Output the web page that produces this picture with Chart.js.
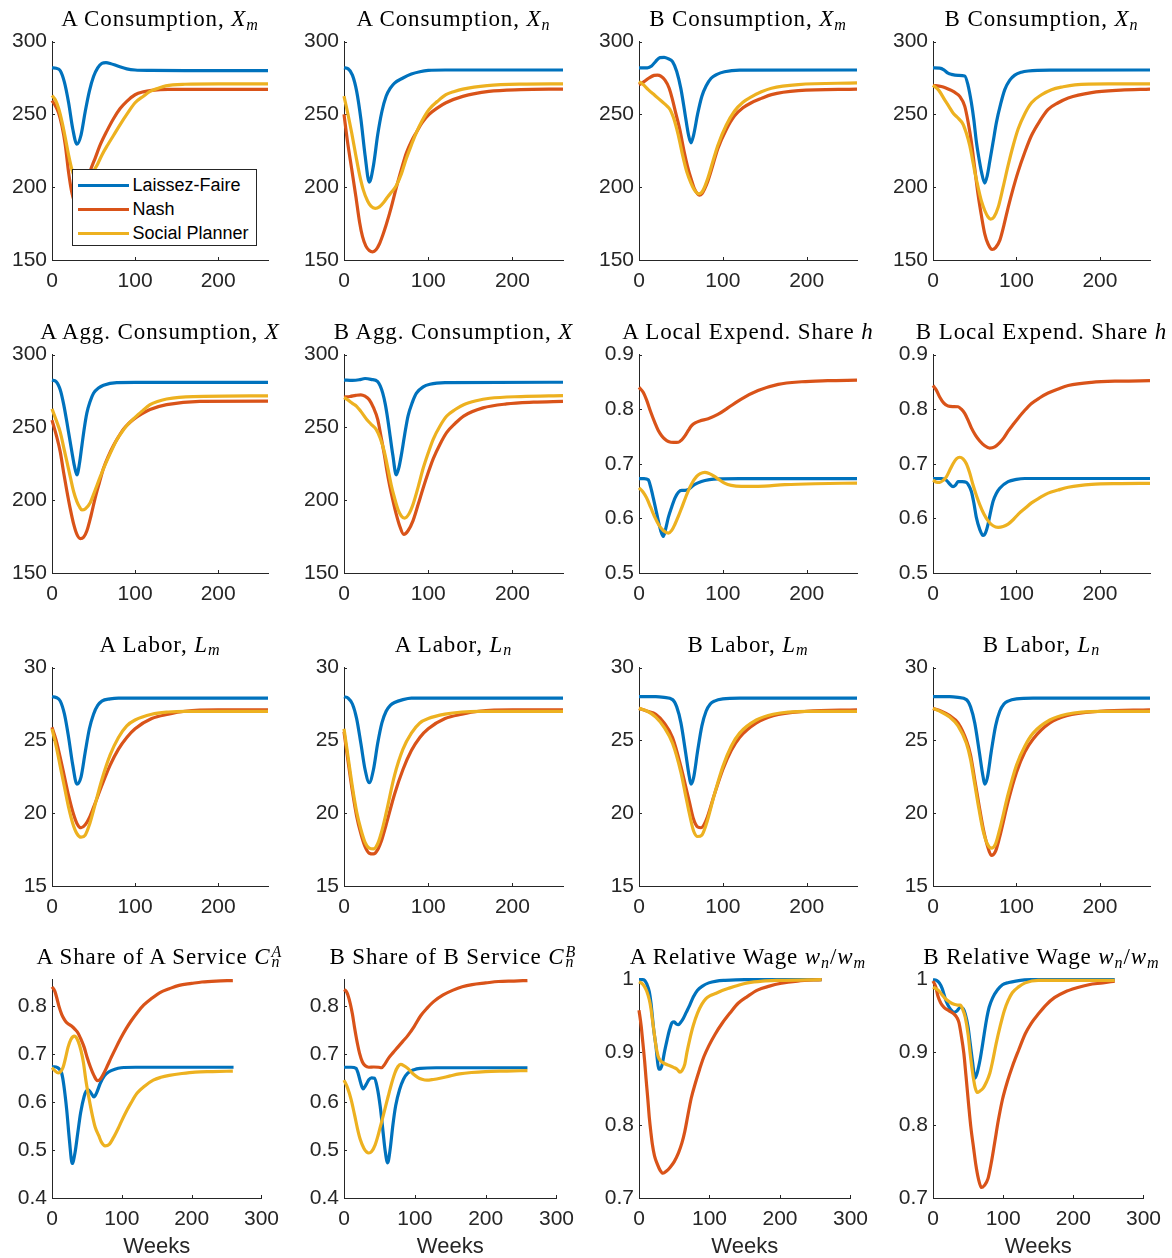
<!DOCTYPE html>
<html><head><meta charset="utf-8">
<script src="https://cdn.jsdelivr.net/npm/chart.js@4.4.1/dist/chart.umd.min.js"></script>
<style>
html,body{margin:0;padding:0;background:#fff;}
body{width:1172px;height:1258px;position:relative;overflow:hidden;}
canvas{position:absolute;}
.ttl{position:absolute;text-align:center;font-family:"Liberation Serif","Times New Roman",serif;font-size:23px;line-height:23px;letter-spacing:0.9px;color:#000;white-space:nowrap;}
.ttl i{font-style:italic;}
.sb{font-size:70%;position:relative;top:3.5px;font-style:italic;}
.ss{display:inline-block;position:relative;width:13px;height:1px;}
.ss .a,.ss .b{position:absolute;left:1px;font-size:16px;line-height:16px;font-style:italic;}
.ss .a{bottom:4px;}
.ss .b{bottom:-6px;}
#lg{position:absolute;left:71.5px;top:169px;width:185px;height:77px;border:1px solid #262626;background:#fff;box-sizing:border-box;}
#lg .ln{position:absolute;left:5px;width:51px;height:3px;}
#lg .tx{position:absolute;left:60px;font-family:"Liberation Sans",Arial,sans-serif;font-size:18px;line-height:18px;color:#000;white-space:nowrap;}
</style></head><body>
<script>
// ---------------- data (weeks, value) ----------------
const seriesNames = ['Laissez-Faire','Nash','Social Planner'];

const xTicksShort = [0,100,200];
const xTicksLong = [0,100,200,300];
const yTicksCons = [150,200,250,300];
const yTicksShare = [0.5,0.6,0.7,0.8,0.9];
const yTicksLabor = [15,20,25,30];
const yTicksServ = [0.4,0.5,0.6,0.7,0.8];
const yTicksWage = [0.7,0.8,0.9,1];

// A Consumption, X_m
const AXm_LF = [[0,282],[5,281.7],[10,280],[15,272],[20,258],[25,240],[30,229.5],[35,236],[40,252],[45,266],[50,276],[55,282],[60,285],[65,285.5],[70,285],[80,283],[90,281.3],[100,280.5],[120,280.2],[160,280],[260,280]];
const AXm_N = [[0,259.5],[4,256],[8,251],[12,242],[16,229],[20,210],[24,196],[28,189],[32,188],[36,191],[40,198],[46,211],[52,220],[58,229],[66,238.5],[74,247],[82,254],[90,259],[100,263.5],[110,265.5],[120,266.5],[140,267.2],[260,267.2]];
const AXm_SP = [[0,263],[4,260],[8,254],[12,245],[16,234],[20,222],[24,212],[28,206],[32,202],[36,201],[40,202.5],[45,206],[50,211],[55,216],[60,222],[67,229],[74,235.5],[82,243],[90,250],[100,258],[110,262.5],[118,265.8],[128,268],[137,269.6],[160,270.7],[200,271],[260,271]];
// A Consumption, X_n
const AXn_LF = [[0,282],[5,281.3],[10,277],[15,266],[20,247],[25,222],[30,203.5],[35,215],[40,236],[45,252],[50,262.5],[55,268],[60,271.5],[70,275],[80,277.7],[90,279.3],[100,280.2],[120,280.5],[260,280.5]];
const AXn_N = [[0,250],[4,232],[9,213],[14,194],[18.5,176],[22,166],[26,159.5],[30,156.5],[34,155.6],[38,157],[42,161],[46,167],[50,174],[56,186],[62,199.5],[68,212],[74,223.5],[80,231.5],[86,237.7],[93,244.5],[101,250],[111,254.5],[121,258],[141,262.4],[172,265.8],[210,267],[260,267.4]];
const AXn_SP = [[0,262.5],[4,252],[9,237.7],[14,222],[18.5,208.5],[23,198],[28,190.5],[32,187],[37,185.5],[42,186.5],[47,189.5],[52,193.5],[57,197],[62,201],[68,209],[74,219.7],[80,229],[86,237.7],[93,246],[101,253.4],[111,259],[121,263.6],[131,265.8],[141,267.4],[170,269.8],[210,270.8],[260,271]];
// B Consumption, X_m
const BXm_LF = [[0,282],[10,282],[15,283.2],[20,286.5],[25,289],[30,289.2],[35,288.2],[40,286.3],[45,279.5],[50,267.5],[55,250],[59,236],[62,230.5],[65,235.5],[70,250.5],[75,262.5],[80,269.5],[86,274.8],[93,277.5],[102,279.3],[120,280.4],[260,280.5]];
const BXm_N = [[0,270.3],[6,272.5],[12,275],[18,276.8],[22,277],[26,276.3],[31,273.5],[36,268],[40,260],[44,250.5],[48.5,240],[54,224],[58,214],[62,206],[66,199],[70,195.3],[72,194.5],[75,195.5],[82,204],[88,215],[94,226.5],[104,239.5],[114,249],[124,254.5],[134,258],[146,261],[158,263.6],[190,266.3],[260,267.4]];
const BXm_SP = [[0,272.6],[5,270.5],[11,267],[19,263],[27,259],[32,256.5],[37,253.4],[41,248],[45,240],[48.5,231.5],[52,222],[57,210.5],[62,202.8],[66,198.2],[71.5,195.4],[76,197.5],[82,206],[88,217.5],[94,228.7],[104,242.5],[114,252.3],[124,258.3],[134,262],[146,265.5],[158,268],[190,270.5],[260,271.6]];
// B Consumption, X_n
const BXn_LF = [[0,282],[8,281.8],[13,280.6],[18,278.3],[22,277.5],[30,276.8],[38,276.4],[42,270],[46,258],[49,246],[52,231],[55,220],[58,210.7],[62,202.8],[65,208],[68,217.6],[72,231],[76,244.5],[81,257],[86,267],[92,273.5],[98,277],[106,279],[114,279.8],[140,280.4],[260,280.5]];
const BXn_N = [[0,270],[10,269.2],[16,268],[22,266.5],[28,264.4],[32,262.4],[38,255.7],[42,245],[46,231],[50,213],[54,195],[58,180.5],[62,168],[66,161],[71,157.2],[75,158.5],[80,163.5],[85,174],[90,186],[96,199],[102,210.7],[110,224],[118,235.5],[128,245.5],[138,253.4],[150,258],[162,261.3],[190,265],[225,266.7],[260,267.4]];
const BXn_SP = [[0,270],[7,266.5],[14,260],[19,255.5],[24,251],[30,247.5],[36,243.3],[40,237],[44,228.7],[47,220],[50,210.7],[54,200],[58,190.5],[62,184],[66,179.5],[69,178.1],[73,179.5],[78,186],[84,200],[90,215],[96,228.5],[102,240],[110,250.5],[118,258],[130,263.5],[142,267],[156,269],[170,270.3],[210,271],[260,271]];
// A Agg. Consumption, X
const AX_LF = [[0,282.5],[5,281.5],[10,275.7],[14,266],[18,253.3],[21,243],[24,233],[27,223.5],[30,217.4],[33,225],[36,237.6],[39,250],[42,260],[46,268],[50,273.5],[56,277],[62,279],[78,280.8],[100,280.9],[260,280.9]];
const AX_N = [[0,255],[5,245],[10,233],[14,219],[18,206],[22,194],[26,183.7],[30,176.5],[34,173.6],[38,174.5],[42,179],[47,189.5],[52,201.6],[57,212],[62,221.9],[68,230.5],[74,237.6],[80,243.5],[86,248.8],[92,252.5],[98,255.5],[108,259.3],[118,262.3],[138,265.6],[178,267.9],[260,268]];
const AX_SP = [[0,262.7],[5,255],[10,246.6],[14,236.5],[18,226.3],[22,216],[26,206],[30,199],[33,195.5],[36,193.3],[40,194],[46,198.3],[52,207],[58,216],[64,224.5],[70,232],[78,241.5],[86,248.3],[92,252.5],[98,255.8],[108,261],[118,265.6],[128,268],[138,269.5],[170,271.2],[260,271.7]];
// B Agg. Consumption, X
const BX_LF = [[0,282.5],[10,282.3],[18,282.7],[25,283.6],[32,283],[40,281.4],[43,278.5],[46,273.5],[49,266],[52,255.5],[55,243],[58,230.8],[62,217.4],[65,222],[68,230.8],[72,245],[76,257.8],[81,267],[86,273.5],[94,277.8],[102,279.6],[120,280.7],[260,281]];
const BX_N = [[0,270.8],[7,271.2],[14,272],[20,272.4],[25,271.4],[30,269],[35,263.5],[40,255.5],[44,243.5],[48,230.8],[51,220],[54,210.6],[58,200],[62,190.4],[66,182.5],[71,176.5],[76,179],[82,186],[88,197],[94,208.4],[100,219],[106,228.6],[114,238.5],[122,246.6],[132,252.8],[142,257.8],[165,263.4],[193,266.1],[225,267.3],[260,267.9]];
const BX_SP = [[0,270.5],[5,268.7],[10,266.5],[15,264.5],[20,261],[27,255.5],[32,252.3],[38,248.8],[43,242.5],[48,233],[52,222],[56,210.6],[60,201.5],[64,193.8],[68,189.2],[72,187.7],[77,190.5],[82,197.2],[88,209],[94,221.9],[100,232.5],[106,242],[114,251],[122,257.8],[132,262.3],[142,265.6],[157,268.3],[173,270],[210,271.2],[260,271.8]];
// A Local Expend. Share h
const Ah_LF = [[0,0.673],[6,0.673],[11,0.6707],[14,0.657],[17,0.6377],[20,0.617],[23,0.5958],[26,0.577],[29,0.567],[32,0.582],[35,0.6018],[39,0.621],[43,0.6377],[47,0.648],[51,0.6515],[55,0.6515],[59,0.653],[66,0.662],[74.5,0.6677],[84,0.671],[94,0.6725],[120,0.673],[260,0.673]];
const Ah_N = [[0,0.840],[5,0.831],[9,0.817],[14,0.795],[19,0.775],[23,0.761],[27,0.7515],[31,0.745],[35,0.741],[41,0.7392],[47,0.7395],[51,0.744],[55,0.7515],[59,0.7615],[62.5,0.7695],[67,0.775],[72.5,0.7784],[82.5,0.7826],[94,0.7904],[106,0.8024],[122,0.8186],[142,0.8341],[166,0.8455],[194,0.8503],[225,0.8522],[260,0.8533]];
const Ah_SP = [[0,0.656],[5,0.648],[9,0.6377],[14,0.62],[19,0.6018],[24,0.587],[29,0.5778],[35,0.573],[39,0.578],[43,0.5898],[47,0.604],[51,0.6198],[55,0.636],[58.5,0.6497],[63,0.664],[68.5,0.6766],[73,0.682],[78.5,0.6844],[84,0.682],[90.5,0.6766],[96,0.6705],[102,0.6647],[110,0.6605],[122,0.6587],[142,0.6587],[174,0.6617],[210,0.6635],[260,0.6647]];
// B Local Expend. Share h
const Bh_LF = [[0,0.6731],[10,0.6731],[16,0.670],[20,0.663],[24,0.6582],[27,0.661],[30,0.6672],[35,0.6675],[40,0.666],[43,0.66],[46,0.6493],[49,0.628],[52,0.6015],[56,0.58],[60,0.5687],[63,0.574],[66,0.5896],[69,0.612],[72,0.6313],[76,0.646],[80,0.6552],[90,0.6672],[100,0.6715],[110,0.6731],[260,0.6731]];
const Bh_N = [[0,0.8433],[4,0.835],[8,0.8224],[13,0.811],[18,0.8057],[24,0.8048],[30,0.8045],[34,0.8],[38,0.7925],[42,0.78],[46,0.7657],[51,0.752],[56,0.7418],[62,0.733],[68,0.7287],[74,0.731],[80,0.7388],[85,0.748],[90,0.7597],[96,0.772],[102,0.7836],[110,0.798],[118,0.8104],[128,0.821],[138,0.8296],[150,0.837],[162,0.8433],[190,0.8493],[225,0.8515],[260,0.8522]];
const Bh_SP = [[0,0.670],[4,0.6665],[8,0.666],[12,0.6695],[16,0.6761],[20,0.688],[24,0.700],[28,0.709],[32,0.712],[36,0.709],[40,0.700],[44,0.683],[48,0.6612],[52,0.642],[56,0.6254],[61,0.608],[66,0.5955],[72,0.5865],[78,0.5836],[84,0.585],[90,0.5896],[96,0.5975],[102,0.6075],[110,0.618],[118,0.6284],[128,0.638],[138,0.6463],[150,0.652],[162,0.657],[190,0.6624],[225,0.6637],[260,0.6642]];
// A Labor, L_m
const ALm_LF = [[0,28],[5,27.95],[10,27.7],[15,26.8],[20,25.2],[25,23.3],[30,22.0],[35,22.5],[40,24.2],[45,25.8],[50,26.8],[55,27.4],[60,27.7],[70,27.85],[80,27.9],[260,27.9]];
const ALm_N = [[0,25.9],[5,25.0],[10,23.8],[15,22.5],[20,21.2],[25,20.1],[30,19.3],[35,19.0],[40,19.2],[45,19.7],[50,20.4],[60,21.9],[70,23.3],[80,24.4],[90,25.2],[100,25.8],[120,26.5],[140,26.8],[160,27.0],[200,27.1],[260,27.1]];
const ALm_SP = [[0,25.8],[5,24.6],[10,23.2],[15,21.8],[20,20.4],[25,19.3],[30,18.6],[35,18.35],[40,18.5],[45,19.2],[50,20.2],[60,22.3],[70,24.0],[80,25.2],[90,26.0],[100,26.4],[120,26.8],[140,26.95],[160,27.0],[260,27.0]];
// A Labor, L_n
const ALn_LF = [[0,28],[5,27.9],[10,27.5],[15,26.5],[20,24.8],[25,23.0],[30,22.1],[35,23.0],[40,24.8],[45,26.2],[50,27.0],[55,27.4],[60,27.6],[70,27.8],[80,27.9],[260,27.9]];
const ALn_N = [[0,25.6],[5,23.5],[10,21.5],[15,19.8],[20,18.6],[25,17.7],[30,17.25],[35,17.2],[40,17.5],[45,18.2],[50,19.2],[60,21.3],[70,23.0],[80,24.3],[90,25.2],[100,25.8],[120,26.5],[140,26.8],[160,27.0],[200,27.1],[260,27.1]];
const ALn_SP = [[0,25.8],[5,23.8],[10,21.8],[15,20.1],[20,18.9],[25,18.0],[30,17.6],[35,17.55],[40,17.9],[45,18.8],[50,20.0],[60,22.6],[70,24.4],[80,25.5],[90,26.2],[100,26.5],[120,26.8],[140,26.95],[160,27.0],[260,27.0]];
// B Labor, L_m
const BLm_LF = [[0,28],[20,28],[30,27.95],[40,27.8],[45,27.3],[50,26.2],[55,24.4],[60,22.5],[62,22.0],[65,22.4],[70,24.3],[75,26.0],[80,27.0],[85,27.5],[90,27.7],[100,27.85],[120,27.9],[260,27.9]];
const BLm_N = [[0,27.2],[10,27.0],[20,26.8],[30,26.2],[40,25.2],[50,23.2],[55,22.0],[60,20.8],[65,19.6],[70,19.05],[74,19.0],[80,19.5],[90,21.3],[100,23.0],[110,24.3],[120,25.2],[140,26.2],[160,26.7],[200,27.0],[260,27.1]];
const BLm_SP = [[0,27.2],[10,27.0],[20,26.6],[30,25.9],[40,24.8],[50,22.8],[55,21.4],[60,20.0],[65,18.8],[70,18.4],[75,18.5],[80,19.2],[90,21.3],[100,23.2],[110,24.6],[120,25.5],[140,26.4],[160,26.8],[200,27.0],[260,27.0]];
// B Labor, L_n
const BLn_LF = [[0,28],[20,28],[30,27.95],[40,27.8],[45,27.3],[50,26.2],[55,24.4],[60,22.5],[62,22.0],[65,22.4],[70,24.3],[75,26.0],[80,27.0],[85,27.5],[90,27.7],[100,27.85],[120,27.9],[260,27.9]];
const BLn_N = [[0,27.2],[10,27.0],[20,26.7],[30,26.2],[40,25.0],[45,24.0],[50,22.3],[55,20.6],[60,19.0],[65,17.8],[70,17.1],[75,17.4],[80,18.4],[90,20.8],[100,22.8],[110,24.2],[120,25.1],[140,26.2],[160,26.7],[200,27.0],[260,27.1]];
const BLn_SP = [[0,27.2],[10,26.95],[20,26.6],[30,26.0],[40,24.8],[45,23.7],[50,22.0],[55,20.3],[60,18.8],[65,17.9],[70,17.6],[75,17.9],[80,18.9],[90,21.3],[100,23.3],[110,24.6],[120,25.5],[140,26.4],[160,26.8],[200,27.0],[260,27.0]];
// A Share of A Service C_n^A
const ACn_LF = [[0,0.6735],[4,0.674],[8,0.672],[11,0.668],[14,0.66],[17,0.635],[21,0.585],[25,0.52],[29,0.472],[33,0.495],[37,0.537],[41,0.578],[46,0.612],[49,0.623],[52,0.626],[56,0.619],[60,0.611],[64,0.62],[69,0.639],[75,0.655],[81,0.663],[90,0.669],[99,0.672],[120,0.673],[260,0.673]];
const ACn_N = [[0,0.841],[4,0.832],[7,0.817],[10,0.8],[14,0.783],[18,0.772],[21,0.766],[25,0.762],[28,0.759],[33,0.752],[37,0.745],[41,0.733],[46,0.715],[50,0.695],[55,0.6735],[60,0.656],[65,0.645],[69,0.648],[74,0.66],[79,0.675],[85,0.694],[92,0.715],[99,0.735],[106,0.753],[113,0.769],[122,0.787],[131.5,0.803],[143,0.817],[154.6,0.829],[168,0.837],[182,0.844],[200,0.848],[214.6,0.851],[235,0.853],[259,0.854]];
const ACn_SP = [[0,0.672],[4,0.666],[9,0.661],[13,0.665],[16,0.6735],[19,0.69],[23,0.715],[27,0.731],[32,0.738],[36,0.732],[41.5,0.708],[45,0.683],[48.5,0.646],[53,0.608],[58,0.571],[62,0.547],[67,0.53],[71,0.516],[76,0.509],[82,0.512],[88,0.526],[96,0.549],[104,0.574],[113,0.598],[122,0.619],[133,0.634],[145,0.646],[156,0.652],[168,0.656],[186,0.66],[205,0.663],[230,0.664],[259,0.665]];
// B Share of B Service C_n^B
const BCn_LF = [[0,0.673],[10,0.673],[17,0.6707],[20,0.66],[24,0.638],[27,0.628],[31,0.636],[35,0.647],[39,0.651],[43,0.650],[47,0.63],[51,0.5925],[55,0.54],[58,0.5],[61.6,0.4735],[65,0.5],[69,0.552],[73,0.593],[78.5,0.6265],[84,0.648],[90,0.6605],[99,0.668],[108,0.6707],[130,0.672],[259,0.672]];
const BCn_N = [[0,0.835],[3,0.832],[5.5,0.824],[9,0.805],[12,0.783],[15,0.755],[19,0.722],[22,0.702],[26,0.684],[30,0.676],[35,0.673],[42,0.6735],[49,0.673],[53,0.672],[57,0.678],[62.5,0.691],[69,0.703],[76,0.715],[83,0.727],[90,0.739],[99,0.758],[108,0.78],[117,0.796],[126.5,0.81],[140,0.824],[154,0.834],[167,0.841],[181,0.8456],[200,0.849],[218,0.852],[240,0.853],[259,0.854]];
const BCn_SP = [[0,0.646],[5,0.63],[10,0.606],[15,0.573],[19,0.545],[23,0.522],[28,0.504],[32,0.496],[35,0.494],[39,0.497],[44,0.511],[48,0.53],[53,0.5585],[58,0.587],[62.5,0.613],[67,0.638],[71.7,0.6605],[76,0.674],[80,0.679],[85,0.676],[90,0.6707],[97,0.66],[104,0.652],[110,0.648],[117,0.646],[126,0.6475],[135.6,0.650],[150,0.655],[163,0.659],[180,0.662],[199.5,0.664],[230,0.665],[259,0.666]];
// A Relative Wage w_n/w_m
const Aw_LF = [[0,1.0],[5,1.0],[8,0.999],[11,0.994],[14.7,0.983],[17,0.968],[19,0.949],[21,0.93],[24,0.909],[26,0.89],[28,0.877],[30,0.877],[33,0.884],[36,0.9],[40,0.918],[43,0.93],[47,0.941],[50,0.942],[53,0.939],[56,0.938],[59,0.941],[63,0.947],[67,0.955],[72,0.965],[77,0.976],[83,0.9855],[90,0.991],[99,0.9955],[110,0.998],[122,0.999],[150,1.0],[259,1.0]];
const Aw_N = [[0,0.958],[3,0.937],[5.5,0.913],[8,0.888],[10,0.864],[12.5,0.836],[14.7,0.8096],[17,0.789],[19,0.7735],[22,0.758],[26,0.7465],[30,0.738],[34,0.734],[39,0.737],[44,0.742],[50,0.75],[56,0.762],[61,0.776],[65,0.7916],[69,0.812],[74,0.8367],[80,0.858],[86,0.877],[92,0.894],[99,0.909],[108,0.925],[118,0.94],[129,0.954],[140.6,0.9675],[154,0.977],[168,0.9856],[185,0.991],[200,0.9946],[225,0.998],[259,1.0]];
const Aw_SP = [[0,0.997],[4,0.995],[8,0.99],[11,0.984],[14.7,0.972],[17,0.96],[19,0.945],[21.5,0.927],[24,0.909],[27,0.895],[30,0.889],[34,0.886],[37.5,0.884],[43,0.882],[49,0.8795],[54,0.877],[58,0.873],[61,0.875],[65,0.884],[68,0.9],[72,0.918],[77,0.937],[83,0.954],[89,0.966],[95,0.974],[101,0.978],[108.6,0.981],[118,0.985],[127,0.988],[140,0.992],[154,0.9955],[175,0.998],[200,0.999],[259,1.0]];
// B Relative Wage w_n/w_m
const Bw_LF = [[0,1.0],[5,0.999],[9,0.9955],[13,0.988],[18.5,0.971],[23,0.962],[27,0.957],[30,0.955],[34,0.957],[39,0.962],[43,0.96],[46,0.953],[50,0.935],[53,0.9125],[56,0.89],[60,0.8647],[63,0.872],[67,0.8895],[71,0.913],[76,0.9436],[80,0.962],[85,0.975],[92,0.986],[99,0.993],[108,0.996],[118,0.998],[140,1.0],[259,1.0]];
const Bw_N = [[0,0.998],[4,0.99],[7,0.9774],[11,0.968],[16,0.9616],[23,0.957],[30,0.9526],[34,0.948],[37,0.941],[40,0.925],[44,0.8985],[47,0.868],[51,0.826],[54,0.797],[58,0.7677],[61,0.746],[64.6,0.727],[69,0.7144],[73,0.717],[78.5,0.727],[83,0.748],[88,0.7767],[93,0.806],[99,0.8353],[106,0.86],[113,0.8804],[122,0.903],[131.5,0.9256],[140,0.94],[150,0.9526],[161,0.965],[173,0.9752],[188,0.983],[205,0.9887],[222,0.993],[242,0.9955],[259,0.998]];
const Bw_SP = [[0,0.9896],[5,0.987],[9,0.984],[13,0.979],[18.5,0.973],[24,0.969],[30,0.966],[35,0.965],[39,0.965],[42,0.96],[46,0.948],[50,0.925],[53,0.8985],[56,0.875],[58,0.862],[60,0.852],[63,0.845],[67,0.847],[71.5,0.851],[76,0.859],[81,0.8714],[85,0.888],[90,0.912],[96,0.937],[101.5,0.957],[107,0.971],[113,0.982],[122,0.99],[131.5,0.9955],[150,0.999],[200,0.999],[259,0.999]];

// ---------------- panel table ----------------
const sub = s => '<span class="sb">' + s + '</span>';
const supsub = (a, b) => '<span class="ss"><span class="a">' + a + '</span><span class="b">' + b + '</span></span>';
const panels = [
  {t:'A Consumption, <i>X</i>' + sub('m'), d:[AXm_LF,AXm_N,AXm_SP], y:[150,300], yt:yTicksCons},
  {t:'A Consumption, <i>X</i>' + sub('n'), d:[AXn_LF,AXn_N,AXn_SP], y:[150,300], yt:yTicksCons},
  {t:'B Consumption, <i>X</i>' + sub('m'), d:[BXm_LF,BXm_N,BXm_SP], y:[150,300], yt:yTicksCons},
  {t:'B Consumption, <i>X</i>' + sub('n'), d:[BXn_LF,BXn_N,BXn_SP], y:[150,300], yt:yTicksCons},
  {t:'A Agg. Consumption, <i>X</i>', d:[AX_LF,AX_N,AX_SP], y:[150,300], yt:yTicksCons},
  {t:'B Agg. Consumption, <i>X</i>', d:[BX_LF,BX_N,BX_SP], y:[150,300], yt:yTicksCons},
  {t:'A Local Expend. Share <i>h</i>', d:[Ah_LF,Ah_N,Ah_SP], y:[0.5,0.9], yt:yTicksShare},
  {t:'B Local Expend. Share <i>h</i>', d:[Bh_LF,Bh_N,Bh_SP], y:[0.5,0.9], yt:yTicksShare},
  {t:'A Labor, <i>L</i>' + sub('m'), d:[ALm_LF,ALm_N,ALm_SP], y:[15,30], yt:yTicksLabor},
  {t:'A Labor, <i>L</i>' + sub('n'), d:[ALn_LF,ALn_N,ALn_SP], y:[15,30], yt:yTicksLabor},
  {t:'B Labor, <i>L</i>' + sub('m'), d:[BLm_LF,BLm_N,BLm_SP], y:[15,30], yt:yTicksLabor},
  {t:'B Labor, <i>L</i>' + sub('n'), d:[BLn_LF,BLn_N,BLn_SP], y:[15,30], yt:yTicksLabor},
  {t:'A Share of A Service <i>C</i>' + supsub('A','n'), d:[ACn_LF,ACn_N,ACn_SP], y:[0.4,0.856], yt:yTicksServ},
  {t:'B Share of B Service <i>C</i>' + supsub('B','n'), d:[BCn_LF,BCn_N,BCn_SP], y:[0.4,0.856], yt:yTicksServ},
  {t:'A Relative Wage <i>w</i>' + sub('n') + '/<i>w</i>' + sub('m'), d:[Aw_LF,Aw_N,Aw_SP], y:[0.7,1], yt:yTicksWage},
  {t:'B Relative Wage <i>w</i>' + sub('n') + '/<i>w</i>' + sub('m'), d:[Bw_LF,Bw_N,Bw_SP], y:[0.7,1], yt:yTicksWage}
];

// ---------------- layout & style ----------------
const COLORS = ['#0072BD','#D95319','#EDB120'];
const AX = '#262626';
const SANS = '"Liberation Sans", Arial, Helvetica, sans-serif';
const colLeft = [52, 344, 639, 933], colRight = [268, 563, 857, 1150];
const rowTop = [38, 351, 664, 976], rowBottom = [260, 573, 886, 1198];
const titleBaseline = [26.5, 339.2, 651.9, 964.6];
const L = 52, T = 14, R = 20;

const inTicks = {
  id: 'inTicks',
  beforeDatasetsDraw(chart) {
    const {ctx, chartArea: a, scales: {x, y}} = chart;
    ctx.save();
    ctx.strokeStyle = AX; ctx.lineWidth = 1;
    ctx.beginPath();
    x.ticks.forEach(t => { const px = Math.round(x.getPixelForValue(t.value)) + 0.5; ctx.moveTo(px, a.bottom); ctx.lineTo(px, a.bottom - 3); });
    y.ticks.forEach(t => { const py = Math.round(y.getPixelForValue(t.value)) + 0.5; ctx.moveTo(a.left, py); ctx.lineTo(a.left + 3, py); });
    ctx.stroke();
    ctx.restore();
  }
};

panels.forEach((p, i) => {
  const r = Math.floor(i / 4), c = i % 4;
  const last = r === 3;
  const B = last ? 60 : 40;
  const xmax = last ? 300 : 260;
  const xt = last ? xTicksLong : xTicksShort;
  const pw = colRight[c] - colLeft[c], ph = rowBottom[r] - rowTop[r];
  const cv = document.createElement('canvas');
  const W = pw + L + R, H = ph + T + B;
  cv.width = W; cv.height = H;
  cv.style.width = W + 'px'; cv.style.height = H + 'px';
  cv.style.left = (colLeft[c] - L) + 'px';
  cv.style.top = (rowTop[r] - T) + 'px';
  document.body.appendChild(cv);

  new Chart(cv, {
    type: 'line',
    data: {
      datasets: p.d.map((arr, k) => ({
        label: seriesNames[k],
        data: arr.map(([x, y]) => ({x, y})),
        borderColor: COLORS[k], backgroundColor: COLORS[k],
        borderWidth: 3.2, pointRadius: 0, fill: false,
        cubicInterpolationMode: 'monotone', clip: false, order: 3 - k
      }))
    },
    options: {
      responsive: false, animation: false, events: [], devicePixelRatio: 1,
      layout: {padding: {left: 0, top: T, right: R, bottom: 0}},
      plugins: {legend: {display: false}, tooltip: {enabled: false}},
      scales: {
        x: {
          type: 'linear', min: 0, max: xmax,
          afterBuildTicks: s => { s.ticks = xt.map(v => ({value: v})); },
          afterFit: s => { s.height = B; },
          grid: {display: false, drawTicks: false},
          border: {display: true, color: AX, width: 1},
          ticks: {font: {family: SANS, size: 21}, color: AX, padding: 9, maxRotation: 0, autoSkip: false, callback: v => String(v)},
          title: last ? {display: true, text: 'Weeks', font: {family: SANS, size: 22, lineHeight: 1}, color: AX, padding: 0} : {display: false}
        },
        y: {
          type: 'linear', min: p.y[0], max: p.y[1],
          afterBuildTicks: s => { s.ticks = p.yt.map(v => ({value: v})); },
          afterFit: s => { s.width = L; },
          grid: {display: false, drawTicks: false},
          border: {display: true, color: AX, width: 1},
          ticks: {font: {family: SANS, size: 21}, color: AX, padding: 5, autoSkip: false, callback: v => String(+(+v).toFixed(2))}
        }
      }
    },
    plugins: [inTicks]
  });

  const t = document.createElement('div');
  t.className = 'ttl';
  t.innerHTML = p.t;
  const cx = (colLeft[c] + colRight[c]) / 2;
  t.style.left = (cx - 200) + 'px';
  t.style.width = '400px';
  t.style.top = (titleBaseline[r] - 19.3) + 'px';
  document.body.appendChild(t);
});

// legend (first panel)
const lg = document.createElement('div');
lg.id = 'lg';
seriesNames.forEach((n, k) => {
  const cy = 15.3 + 24 * k;
  const ln = document.createElement('div');
  ln.className = 'ln'; ln.style.top = (cy - 1.5) + 'px'; ln.style.background = COLORS[k];
  const tx = document.createElement('div');
  tx.className = 'tx'; tx.style.top = (cy - 9) + 'px'; tx.textContent = n;
  lg.appendChild(ln); lg.appendChild(tx);
});
document.body.appendChild(lg);
</script>
</body></html>
